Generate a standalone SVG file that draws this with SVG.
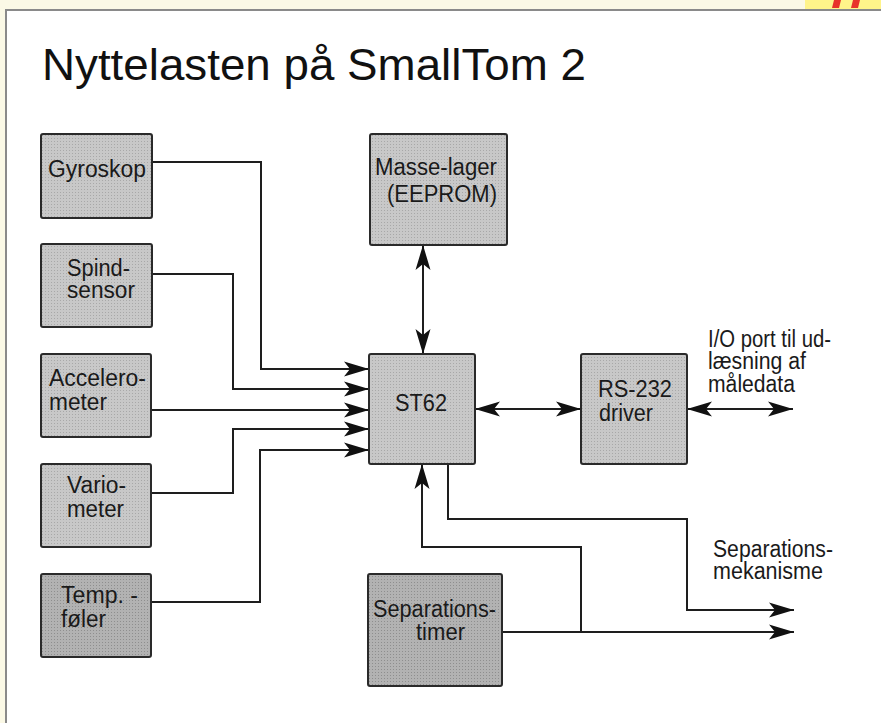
<svg xmlns="http://www.w3.org/2000/svg" width="881" height="723" viewBox="0 0 881 723">
<style>
.box{fill:url(#dots);stroke:#2a2a2a;stroke-width:2}
.dark{fill:url(#dotsDark)}
.t{font-family:"Liberation Sans",Arial,sans-serif;font-size:23px;fill:#1a1a1a}
.title{font-family:"Liberation Sans",Arial,sans-serif;font-size:44px;fill:#111}
.c{fill:none;stroke:#1e1e1e;stroke-width:2}
</style>
<defs>
<pattern id="dots" patternUnits="userSpaceOnUse" width="3" height="3">
<rect width="3" height="3" fill="#c8c8c8"/>
<rect width="1" height="1" fill="#a8a8a8"/>
</pattern>
<pattern id="dotsDark" patternUnits="userSpaceOnUse" width="3" height="3">
<rect width="3" height="3" fill="#b2b2b2"/>
<rect width="1" height="1" fill="#8e8e8e"/>
</pattern>
<marker id="arr" markerUnits="userSpaceOnUse" markerWidth="26" markerHeight="18" viewBox="0 0 26 18" refX="25" refY="9" orient="auto-start-reverse">
<path d="M25,9 L0,1.5 L6,9 L0,16.5 Z" fill="#111"/>
</marker>
</defs>
<rect x="0" y="0" width="881" height="723" fill="#ffffff"/>
<rect x="0" y="0" width="881" height="10" fill="#fbf9e6"/>
<rect x="0" y="0" width="6" height="723" fill="#fbf9e6"/>
<rect x="805" y="0" width="76" height="9" fill="#fff48a"/>
<polygon points="834,0 841,0 839,8 832,8" fill="#e8332a"/>
<polygon points="853,0 860,0 858,8 851,8" fill="#e8332a"/>
<path d="M6,723 V10 H881" fill="none" stroke="#8a8a8a" stroke-width="2"/>
<text class="title" x="42" y="80" textLength="544" lengthAdjust="spacingAndGlyphs">Nyttelasten på SmallTom 2</text>

<g id="connectors">
<path class="c" d="M152,162 H261 V369 H369" marker-end="url(#arr)"/>
<path class="c" d="M152,274 H233 V389 H369" marker-end="url(#arr)"/>
<path class="c" d="M151,410 H369" marker-end="url(#arr)"/>
<path class="c" d="M151,493 H233 V429 H369" marker-end="url(#arr)"/>
<path class="c" d="M151,602 H260 V450 H369" marker-end="url(#arr)"/>
<path class="c" d="M423,245 V354" marker-start="url(#arr)" marker-end="url(#arr)"/>
<path class="c" d="M475,409 H581" marker-start="url(#arr)" marker-end="url(#arr)"/>
<path class="c" d="M687,409 H793" marker-start="url(#arr)" marker-end="url(#arr)"/>
<path class="c" d="M581,632 V547 H422 V464" marker-end="url(#arr)"/>
<path class="c" d="M502,632 H794" marker-end="url(#arr)"/>
<path class="c" d="M448,464 V519 H687 V610 H794" marker-end="url(#arr)"/>
</g>

<g id="gyroskop">
<rect class="box" x="41" y="134" width="111" height="84" rx="2"/>
<text class="t" x="48" y="177" textLength="98" lengthAdjust="spacingAndGlyphs">Gyroskop</text>
</g>
<g id="spindsensor">
<rect class="box" x="41" y="244" width="111" height="83" rx="2"/>
<text class="t" x="67" y="276" textLength="63" lengthAdjust="spacingAndGlyphs">Spind-</text>
<text class="t" x="67" y="298" textLength="68" lengthAdjust="spacingAndGlyphs">sensor</text>
</g>
<g id="accelerometer">
<rect class="box" x="41" y="354" width="110" height="83" rx="2"/>
<text class="t" x="49" y="386" textLength="97" lengthAdjust="spacingAndGlyphs">Accelero-</text>
<text class="t" x="49" y="410" textLength="58" lengthAdjust="spacingAndGlyphs">meter</text>
</g>
<g id="variometer">
<rect class="box" x="41" y="464" width="110" height="83" rx="2"/>
<text class="t" x="67" y="493" textLength="59" lengthAdjust="spacingAndGlyphs">Vario-</text>
<text class="t" x="67" y="517" textLength="57" lengthAdjust="spacingAndGlyphs">meter</text>
</g>
<g id="tempfoeler">
<rect class="box dark" x="41" y="574" width="110" height="83" rx="2"/>
<text class="t" x="61" y="603" textLength="77" lengthAdjust="spacingAndGlyphs">Temp. -</text>
<text class="t" x="61" y="627" textLength="45" lengthAdjust="spacingAndGlyphs">føler</text>
</g>
<g id="masselager">
<rect class="box" x="370" y="134" width="137" height="111" rx="2"/>
<text class="t" x="375" y="175" textLength="122" lengthAdjust="spacingAndGlyphs">Masse-lager</text>
<text class="t" x="387" y="202" textLength="110" lengthAdjust="spacingAndGlyphs">(EEPROM)</text>
</g>
<g id="st62">
<rect class="box" x="369" y="354" width="106" height="110" rx="2"/>
<text class="t" x="395" y="411" textLength="52" lengthAdjust="spacingAndGlyphs">ST62</text>
</g>
<g id="rs232">
<rect class="box" x="581" y="354" width="106" height="110" rx="2"/>
<text class="t" x="598" y="397" textLength="74" lengthAdjust="spacingAndGlyphs">RS-232</text>
<text class="t" x="599" y="421" textLength="54" lengthAdjust="spacingAndGlyphs">driver</text>
</g>
<g id="separationstimer">
<rect class="box dark" x="368" y="574" width="134" height="112" rx="2"/>
<text class="t" x="373" y="617" textLength="123" lengthAdjust="spacingAndGlyphs">Separations-</text>
<text class="t" x="416" y="640" textLength="49" lengthAdjust="spacingAndGlyphs">timer</text>
</g>
<g id="io-label">
<text class="t" x="708" y="347" textLength="123" lengthAdjust="spacingAndGlyphs">I/O port til ud-</text>
<text class="t" x="708" y="369" textLength="98" lengthAdjust="spacingAndGlyphs">læsning af</text>
<text class="t" x="708" y="392" textLength="87" lengthAdjust="spacingAndGlyphs">måledata</text>
</g>
<g id="separationsmekanisme-label">
<text class="t" x="713" y="557" textLength="120" lengthAdjust="spacingAndGlyphs">Separations-</text>
<text class="t" x="713" y="579" textLength="110" lengthAdjust="spacingAndGlyphs">mekanisme</text>
</g>
</svg>
